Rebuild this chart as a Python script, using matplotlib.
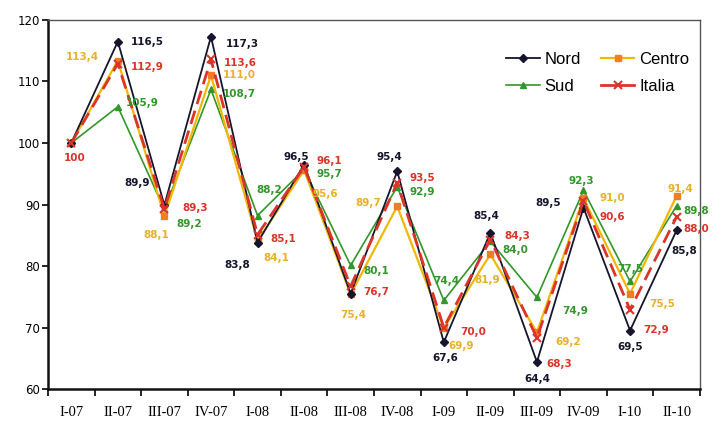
import matplotlib
matplotlib.use("Agg")
import matplotlib.pyplot as plt
from matplotlib.lines import Line2D

categories = ["I-07", "II-07", "III-07", "IV-07", "I-08", "II-08", "III-08",
              "IV-08", "I-09", "II-09", "III-09", "IV-09", "I-10", "II-10"]
nord = [100, 116.5, 89.9, 117.3, 83.8, 96.5, 75.5, 95.4, 67.6, 85.4, 64.4, 89.5, 69.5, 85.8]
centro = [100, 113.4, 88.1, 111.0, 84.1, 95.6, 75.4, 89.7, 69.9, 81.9, 69.2, 91.0, 75.5, 91.4]
sud = [100, 105.9, 89.2, 108.7, 88.2, 95.7, 80.1, 92.9, 74.4, 84.0, 74.9, 92.3, 77.5, 89.8]
italia = [100, 112.9, 89.3, 113.6, 85.1, 96.1, 76.7, 93.5, 70.0, 84.3, 68.3, 90.6, 72.9, 88.0]
nord_labelled = [False, True, True, True, True, True, False, True, True, True, True, True, True, True]
centro_labelled = [False] + [True] * 13
sud_labelled = [False] + [True] * 13
italia_labelled = [True] * 14

# label offsets in pixels (dx right, dy down)
nord_off = [(0, 0), (29, 0), (-27, -22), (31, 7), (-20, 22), (-8, -8), (0, 0), (-8, -14),
            (2, 16), (-4, -17), (0, 17), (-35, -5), (0, 16), (8, 21)]
centro_off = [(0, 0), (-35, -4), (-8, 19), (28, 0), (19, 17), (21, 24), (3, 21), (-29, -3),
              (17, 18), (-3, 26), (31, 10), (29, 0), (32, 10), (4, -7)]
sud_off = [(0, 0), (24, -4), (25, 15), (28, 5), (12, -26), (25, 5), (26, 6), (25, 5),
           (3, -19), (25, 9), (38, 14), (-2, -9), (0, -12), (20, 5)]
italia_off = [(3, 15), (29, 3), (31, -1), (29, 4), (26, 4), (25, -6), (26, 6), (25, -5),
              (29, 4), (27, -4), (22, 26), (29, 16), (26, 20), (20, 12)]

C_NORD = "#15152e"
C_CENTRO = "#f2b705"
C_CENTRO_M = "#ef7d22"
C_CENTRO_T = "#e6b22c"
C_SUD = "#33962a"
C_ITALIA = "#d9352b"

fig = plt.figure(figsize=(7.12, 4.21), dpi=100)
ax = fig.add_axes([0.0674, 0.076, 0.9156, 0.8765])

x = list(range(len(categories)))
ax.plot(x, sud, color=C_SUD, lw=1.2, marker="^", ms=4, zorder=3)
ax.plot(x, centro, color=C_CENTRO, lw=1.6, marker="s", ms=4, mfc=C_CENTRO_M, mec=C_CENTRO_M, zorder=4)
ax.plot(x, nord, color=C_NORD, lw=1.3, marker="D", ms=4.5, zorder=5)
ax.plot(x, italia, color=C_ITALIA, lw=2.0, ls=(0, (5, 2.5)), marker="x", ms=6, mew=1.5, zorder=6)

def put_labels(vals, offs, flags, color):
    for i, (v, (dx, dy), f) in enumerate(zip(vals, offs, flags)):
        if not f:
            continue
        txt = ("%g" % v) if v == 100 else ("%.1f" % v).replace(".", ",")
        ax.annotate(txt, (i, v), xytext=(dx * 0.72, -dy * 0.72), textcoords="offset points",
                    ha="center", va="center", fontsize=7.5, fontweight="bold",
                    color=color, zorder=10)

put_labels(nord, nord_off, nord_labelled, C_NORD)
put_labels(centro, centro_off, centro_labelled, C_CENTRO_T)
put_labels(sud, sud_off, sud_labelled, C_SUD)
put_labels(italia, italia_off, italia_labelled, C_ITALIA)

ax.set_xlim(-0.5, len(categories) - 0.5)
ax.set_ylim(60, 120)
ax.set_yticks(range(60, 121, 10))
ax.set_xticks([i - 0.5 for i in range(len(categories) + 1)])
ax.set_xticklabels([])
ax.set_xticks(x, minor=True)
ax.set_xticklabels(categories, minor=True, fontfamily="Liberation Serif", fontsize=10.5)
ax.tick_params(axis="x", which="minor", length=0, pad=12)
ax.tick_params(axis="x", which="major", length=5, width=1.2, direction="out")
ax.tick_params(axis="y", length=4, width=1.2, labelsize=8.5, pad=2)

for s in ["left", "bottom"]:
    ax.spines[s].set_linewidth(1.8)
    ax.spines[s].set_color("#111111")
for s in ["top", "right"]:
    ax.spines[s].set_linewidth(1.0)
    ax.spines[s].set_color("#555555")

handles = [
    Line2D([], [], color=C_NORD, lw=1.3, marker="D", ms=4.5),
    Line2D([], [], color=C_SUD, lw=1.2, marker="^", ms=4),
    Line2D([], [], color=C_CENTRO, lw=1.6, marker="s", ms=4, mfc=C_CENTRO_M, mec=C_CENTRO_M),
    Line2D([], [], color=C_ITALIA, lw=2.0, marker="x", ms=6, mew=1.5),
]
ax.legend(handles, ["Nord", "Sud", "Centro", "Italia"], ncol=2, frameon=False,
          loc="upper left", bbox_to_anchor=(0.68, 0.955),
          handlelength=2.0, handletextpad=0.3, columnspacing=1.2, labelspacing=0.75,
          prop={"family": "Liberation Sans", "size": 12})

fig.savefig("out.png", dpi=100)
